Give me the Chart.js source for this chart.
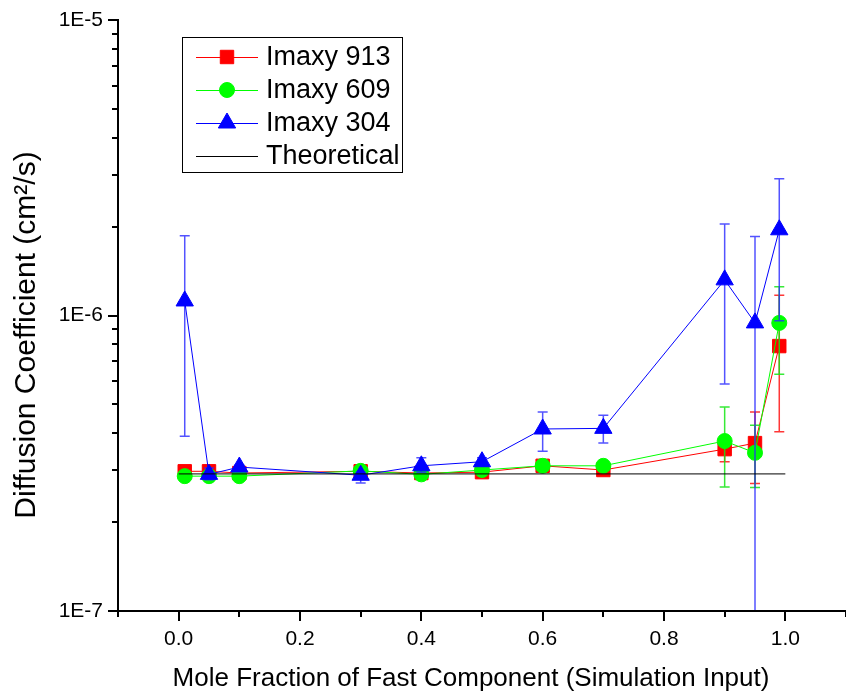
<!DOCTYPE html>
<html><head><meta charset="utf-8">
<script src="https://cdn.jsdelivr.net/npm/chart.js@4/dist/chart.umd.min.js"></script>
<style>html,body{margin:0;padding:0;background:#fff}#wrap{width:846px;height:697px}</style>
</head><body><div id="wrap"><canvas id="c" width="846" height="697"></canvas></div>
<script>
// ---- data ----
const xValues = [0.01, 0.05, 0.1, 0.3, 0.4, 0.5, 0.6, 0.7, 0.9, 0.95, 0.99];

const imaxy913      = [2.97e-7, 2.97e-7, 2.93e-7, 2.97e-7, 2.93e-7, 2.95e-7, 3.10e-7, 3.00e-7, 3.53e-7, 3.70e-7, 7.88e-7];
const imaxy913Upper = [3.00e-7, 3.00e-7, 2.96e-7, 3.00e-7, 2.96e-7, 2.98e-7, 3.14e-7, 3.04e-7, 3.90e-7, 4.71e-7, 1.17e-6];
const imaxy913Lower = [2.94e-7, 2.94e-7, 2.90e-7, 2.94e-7, 2.90e-7, 2.92e-7, 3.06e-7, 2.96e-7, 3.20e-7, 2.70e-7, 4.04e-7];

const imaxy609      = [2.86e-7, 2.86e-7, 2.86e-7, 2.98e-7, 2.90e-7, 3.00e-7, 3.10e-7, 3.10e-7, 3.76e-7, 3.43e-7, 9.44e-7];
const imaxy609Upper = [2.89e-7, 2.89e-7, 2.89e-7, 3.01e-7, 2.93e-7, 3.03e-7, 3.14e-7, 3.14e-7, 4.90e-7, 4.25e-7, 1.25e-6];
const imaxy609Lower = [2.83e-7, 2.83e-7, 2.83e-7, 2.95e-7, 2.87e-7, 2.97e-7, 3.06e-7, 3.06e-7, 2.63e-7, 2.62e-7, 6.33e-7];

const imaxy304      = [1.12e-6, 2.90e-7, 3.07e-7, 2.88e-7, 3.10e-7, 3.20e-7, 4.13e-7, 4.15e-7, 1.32e-6, 9.44e-7, 1.95e-6];
const imaxy304Upper = [1.86e-6, 3.05e-7, 3.12e-7, 2.95e-7, 3.30e-7, 3.30e-7, 4.71e-7, 4.60e-7, 2.04e-6, 1.85e-6, 2.90e-6];
const imaxy304Lower = [3.90e-7, 2.78e-7, 3.02e-7, 2.71e-7, 2.95e-7, 3.10e-7, 3.47e-7, 3.70e-7, 5.86e-7, 1.00e-9, 9.60e-7];

const theoreticalX = [0.0, 1.0];
const theoreticalY = [2.91e-7, 2.91e-7];

const xTickValues = [0.0, 0.2, 0.4, 0.6, 0.8, 1.0];
const xMinorTickValues = [-0.1, 0.1, 0.3, 0.5, 0.7, 0.9, 1.1];
const yTickValues = [1e-7, 1e-6, 1e-5];
const yTickLabels = ['1E-7', '1E-6', '1E-5'];
const yMinorTickValues = [2e-7,3e-7,4e-7,5e-7,6e-7,7e-7,8e-7,9e-7,2e-6,3e-6,4e-6,5e-6,6e-6,7e-6,8e-6,9e-6];

const seriesNames = ['Imaxy 913', 'Imaxy 609', 'Imaxy 304', 'Theoretical'];
const xTitle = 'Mole Fraction of Fast Component (Simulation Input)';
const yTitle = 'Diffusion Coefficient (cm²/s)';

// ---- build ----
const pts = (xs, ys) => xs.map((x, i) => ({x, y: ys[i]}));
const FONT = "'Liberation Sans', Arial, sans-serif";

const datasets = [
  { label: seriesNames[3], data: pts(theoreticalX, theoreticalY), borderColor: '#000', borderWidth: 1,
    pointRadius: 0, order: 0 },
  { label: seriesNames[2], data: pts(xValues, imaxy304), borderColor: '#0000ff', backgroundColor: '#0000ff',
    borderWidth: 1, pointStyle: 'triangle', pointRadius: 10, pointBorderWidth: 1, order: 1,
    errUpper: imaxy304Upper, errLower: imaxy304Lower, errColor: 'rgba(40,40,255,0.8)' },
  { label: seriesNames[1], data: pts(xValues, imaxy609), borderColor: '#00ff00', backgroundColor: '#00ff00',
    borderWidth: 1, pointStyle: 'circle', pointRadius: 7.5, pointBorderWidth: 1, order: 2,
    errUpper: imaxy609Upper, errLower: imaxy609Lower, errColor: 'rgba(20,230,20,0.85)' },
  { label: seriesNames[0], data: pts(xValues, imaxy913), borderColor: '#ff0000', backgroundColor: '#ff0000',
    borderWidth: 1, pointStyle: 'rect', pointRadius: 9.5, pointBorderWidth: 1, order: 3,
    errUpper: imaxy913Upper, errLower: imaxy913Lower, errColor: 'rgba(255,20,20,0.85)' }
];

const errorBarPlugin = {
  id: 'errorBars',
  beforeDatasetDraw(chart, args) {
    const ds = chart.data.datasets[args.index];
    if (!ds.errUpper) return;
    const xs = chart.scales.x, ys = chart.scales.y, ctx = chart.ctx, ca = chart.chartArea;
    ctx.save();
    ctx.beginPath(); ctx.rect(ca.left, ca.top, ca.right - ca.left, ca.bottom - ca.top); ctx.clip();
    ctx.strokeStyle = ds.errColor; ctx.lineWidth = 1.5;
    ds.data.forEach((p, i) => {
      const px = xs.getPixelForValue(p.x);
      const pu = ys.getPixelForValue(ds.errUpper[i]);
      const pl = ys.getPixelForValue(ds.errLower[i]);
      ctx.beginPath();
      ctx.moveTo(px, pu); ctx.lineTo(px, pl);
      ctx.moveTo(px - 5, pu); ctx.lineTo(px + 5, pu);
      ctx.moveTo(px - 5, pl); ctx.lineTo(px + 5, pl);
      ctx.stroke();
    });
    ctx.restore();
  }
};

const axesPlugin = {
  id: 'axesDraw',
  afterDatasetsDraw(chart) {
    const xs = chart.scales.x, ys = chart.scales.y, ctx = chart.ctx, ca = chart.chartArea;
    ctx.save();
    ctx.strokeStyle = '#000'; ctx.lineWidth = 2; ctx.lineCap = 'butt';
    ctx.beginPath();
    ctx.moveTo(ca.left, ca.top - 1); ctx.lineTo(ca.left, ca.bottom + 1);
    ctx.moveTo(ca.left - 1, ca.bottom); ctx.lineTo(chart.width, ca.bottom);
    yTickValues.forEach(v => { const py = Math.round(ys.getPixelForValue(v)); ctx.moveTo(ca.left - 10, py); ctx.lineTo(ca.left, py); });
    yMinorTickValues.forEach(v => { const py = Math.round(ys.getPixelForValue(v)); ctx.moveTo(ca.left - 6, py); ctx.lineTo(ca.left, py); });
    xTickValues.forEach(v => { const px = Math.round(xs.getPixelForValue(v)); ctx.moveTo(px, ca.bottom); ctx.lineTo(px, ca.bottom + 10); });
    xMinorTickValues.forEach(v => { const px = Math.round(xs.getPixelForValue(v)); ctx.moveTo(px, ca.bottom); ctx.lineTo(px, ca.bottom + 6); });
    ctx.stroke();
    ctx.restore();
  }
};

const titlesPlugin = {
  id: 'axisTitles',
  afterDraw(chart) {
    const ctx = chart.ctx;
    ctx.save();
    ctx.fillStyle = '#000'; ctx.textAlign = 'center'; ctx.textBaseline = 'middle';
    ctx.font = "26px " + FONT;
    ctx.fillText(xTitle, 471, 679);
    ctx.translate(27, 335); ctx.rotate(-Math.PI / 2);
    ctx.font = "30px " + FONT;
    ctx.fillText(yTitle, 0, 0);
    ctx.restore();
  }
};

const legendPlugin = {
  id: 'boxLegend',
  afterDraw(chart) {
    const ctx = chart.ctx;
    const bx = 182, by = 37, bw = 220, bh = 135;
    ctx.save();
    ctx.fillStyle = '#fff'; ctx.fillRect(bx, by, bw, bh);
    ctx.strokeStyle = '#000'; ctx.lineWidth = 1; ctx.strokeRect(bx + 0.5, by + 0.5, bw, bh);
    const order = [3, 2, 1, 0];
    order.forEach((di, k) => {
      const ds = chart.data.datasets[di];
      const cy = 57 + k * 33;
      ctx.strokeStyle = ds.borderColor; ctx.lineWidth = 1;
      ctx.beginPath(); ctx.moveTo(196, cy + 0.5); ctx.lineTo(258, cy + 0.5); ctx.stroke();
      if (ds.pointStyle && ds.pointRadius) {
        ctx.fillStyle = ds.backgroundColor; ctx.strokeStyle = ds.backgroundColor;
        Chart.helpers.drawPoint(ctx, { pointStyle: ds.pointStyle, radius: ds.pointRadius, borderWidth: 1, rotation: 0 }, 227, cy);
      }
      ctx.fillStyle = '#000'; ctx.font = "27px " + FONT; ctx.textBaseline = 'middle'; ctx.textAlign = 'left';
      ctx.fillText(ds.label, 266, cy + 1);
    });
    ctx.restore();
  }
};

const zeroPad = s => { s.paddingTop = 0; s.paddingBottom = 0; s.paddingLeft = 0; s.paddingRight = 0; };

new Chart(document.getElementById('c'), {
  type: 'line',
  data: { datasets },
  plugins: [errorBarPlugin, axesPlugin, titlesPlugin, legendPlugin],
  options: {
    responsive: false, animation: false, devicePixelRatio: 1,
    layout: { autoPadding: false, padding: { top: 20, right: 0, left: 0, bottom: 0 } },
    plugins: { legend: { display: false }, tooltip: { enabled: false } },
    elements: { line: { tension: 0 } },
    scales: {
      x: {
        type: 'linear', min: -0.1, max: 1.1,
        grid: { display: false, drawTicks: false }, border: { display: false },
        afterBuildTicks: s => { s.ticks = xTickValues.map(v => ({ value: v })); },
        afterFit: s => { s.height = 86; zeroPad(s); },
        ticks: { padding: 16, color: '#000', font: { family: FONT, size: 21 }, maxRotation: 0, callback: v => Number(v).toFixed(1) },
        title: { display: false, text: xTitle }
      },
      y: {
        type: 'logarithmic', min: 1e-7, max: 1e-5,
        grid: { display: false, drawTicks: false }, border: { display: false },
        afterBuildTicks: s => { s.ticks = yTickValues.map(v => ({ value: v })); },
        afterFit: s => { s.width = 118; zeroPad(s); },
        ticks: { padding: 15, color: '#000', font: { family: FONT, size: 21 },
                 callback: (v) => yTickLabels[yTickValues.findIndex(t => Math.abs(Math.log10(t) - Math.log10(v)) < 1e-6)] },
        title: { display: false, text: yTitle }
      }
    }
  }
});
</script>
</body></html>
